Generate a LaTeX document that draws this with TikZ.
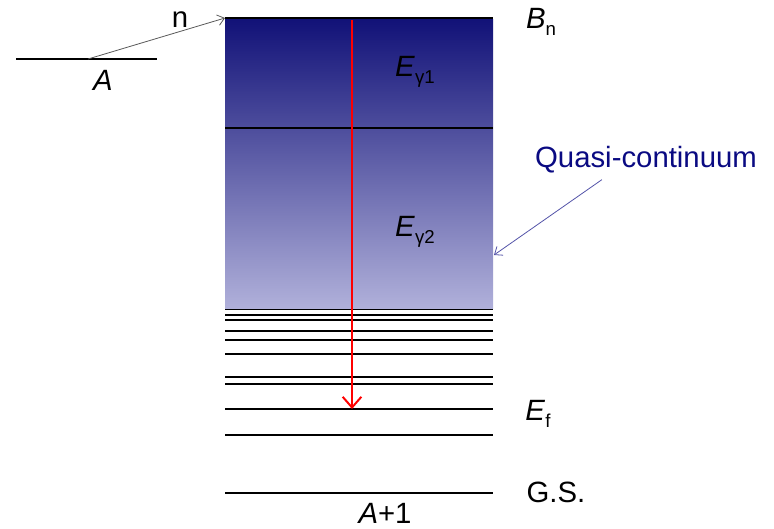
\documentclass[tikz,border=0pt]{standalone}
\usepackage{fontspec}
\setmainfont{Liberation Sans}
\usetikzlibrary{positioning,calc,arrows.meta}
\definecolor{qctop}{RGB}{18,18,120}
\definecolor{qcbottom}{RGB}{176,176,218}
\definecolor{qcnavy}{RGB}{10,10,130}
\tikzset{
  level/.style={line width=1.4pt},
  lab/.style={inner sep=0pt,font=\fontsize{22}{26}\selectfont},
  gamma/.style={red,line width=1.5pt,-{Straight Barb[length=8pt,width=14pt]}},
  thin arrow/.style={line width=0.6pt,-{Straight Barb[length=5pt,width=8pt]}}
}
\newcommand{\lsub}[1]{\raisebox{-0.45ex}{\fontsize{14}{16}\selectfont #1}}
\begin{document}
\begin{tikzpicture}[x=0.75pt,y=-0.75pt]
  \useasboundingbox (0,0) rectangle (774,528);
  % quasi-continuum band
  \shade[top color=qctop,bottom color=qcbottom] (225,20) rectangle (493,308);
  % target nucleus A
  \coordinate (a1) at (16,59);
  \coordinate (a2) at (157,59);
  \draw[level] (a1) -- (a2);
  \node[lab] (labA) at (103,80) {\textit{A}};
  % levels of A+1
  \coordinate (bn1) at (225,18);
  \coordinate (bn2) at (493,18);
  \draw[level] (bn1) -- (bn2);
  \coordinate (m1) at (225,128);
  \coordinate (m2) at (493,128);
  \draw[level] (m1) -- (m2);
  \foreach \y [count=\i] in {309.5,315,320,331,340,354,377,384,409,435,493}{
    \coordinate (l\i a) at (225,\y);
    \coordinate (l\i b) at (493,\y);
    \draw[level] (l\i a) -- (l\i b);
  }
  % neutron capture
  \coordinate (nstart) at (88,59);
  \draw[thin arrow,gray!70!black] (nstart) -- (bn1);
  \node[lab] (labn) at (180,20) {n};
  % gamma cascade
  \coordinate (g0) at (352,20);
  \coordinate (g1) at (352,409);
  \draw[gamma] (g0) -- (g1);
  \node[lab] (eg1) at (415,72) {\textit{E}\lsub{γ1}};
  \node[lab] (eg2) at (415,232) {\textit{E}\lsub{γ2}};
  % labels on the right
  \node[lab] (bn) at (541,22) {\textit{B}\lsub{n}};
  \node[lab] (ef) at (538,414) {\textit{E}\lsub{f}};
  \node[lab] (gs) at (556,492) {G.S.};
  \node[lab] (a1lab) at (385,513) {\textit{A}+1};
  \node[lab,text=qcnavy] (qc) at (646,160) {Quasi-continuum};
  \coordinate (qcend) at (494,255);
  \draw[thin arrow,qcnavy!70!white] ($(qc.south west)+(67,6)$) -- (qcend);
\end{tikzpicture}
\end{document}
